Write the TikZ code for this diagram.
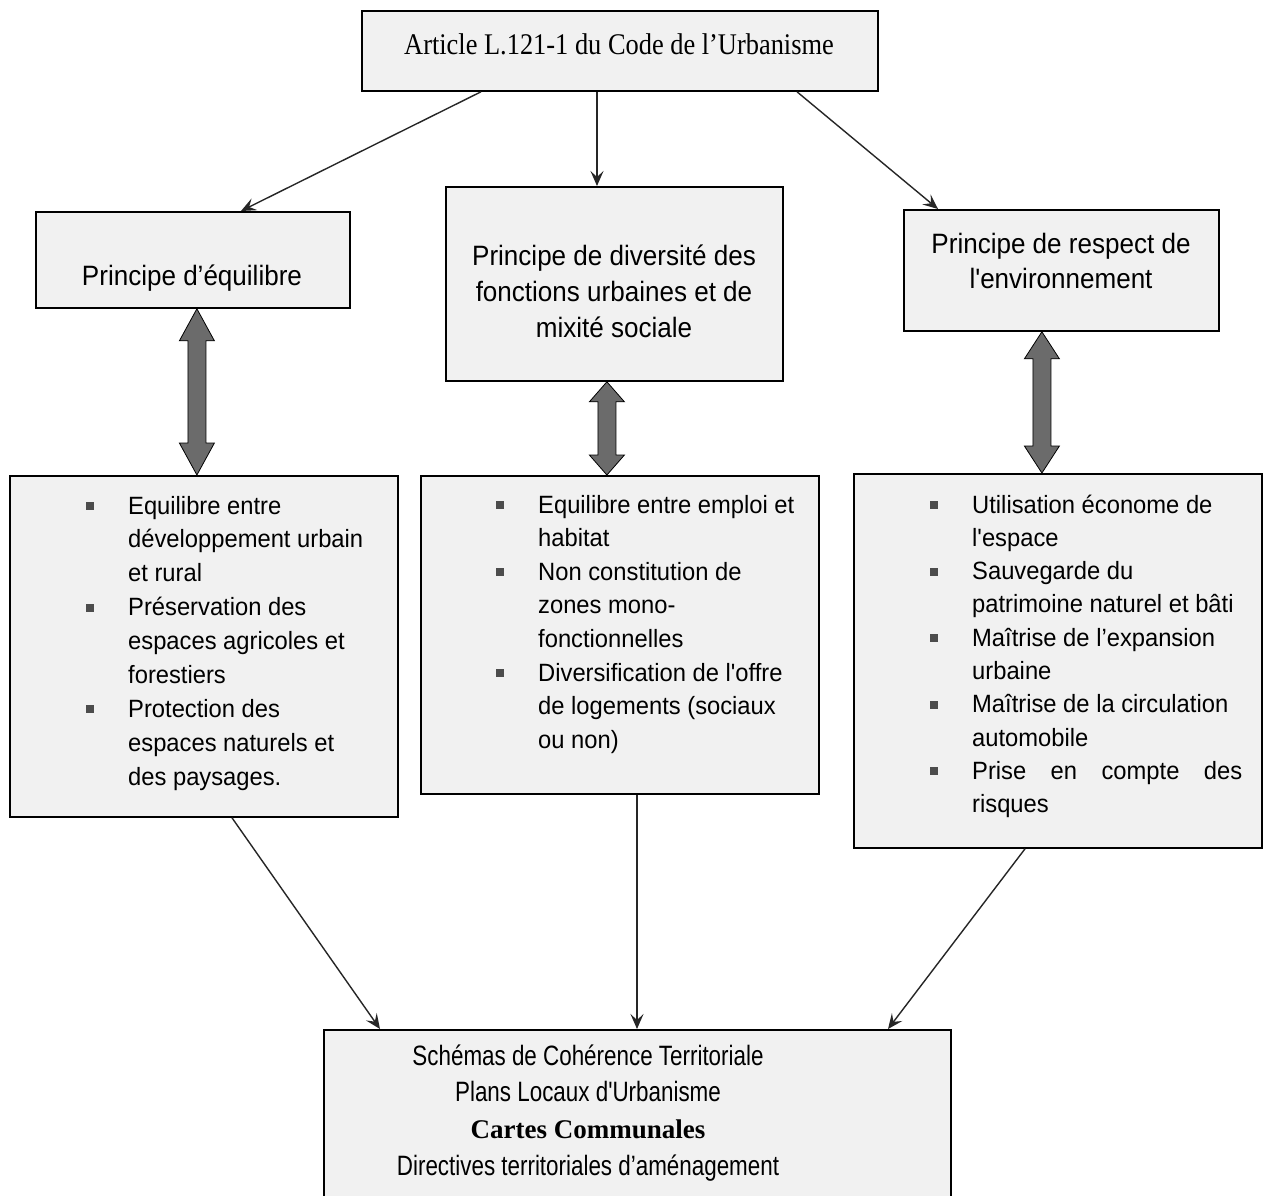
\documentclass[tikz,border=0pt]{standalone}
\usepackage{fontspec}
\usetikzlibrary{arrows.meta,calc}
\newfontfamily\serifA[Ligatures=TeXOff,FakeStretch=0.88]{Liberation Serif}
\newfontfamily\serifB[Ligatures=TeXOff]{Liberation Serif}
\newfontfamily\sansP[Ligatures=TeXOff,FakeStretch=0.93]{Liberation Sans}
\newfontfamily\sansL[Ligatures=TeXOff,FakeStretch=0.95]{Liberation Sans}
\newfontfamily\sansN[Ligatures=TeXOff,FakeStretch=0.8]{Liberation Sans}
\definecolor{boxfill}{gray}{0.945}
\definecolor{arrgray}{gray}{0.42}
\definecolor{bulgray}{gray}{0.3}
\newcommand\blt{\makebox[42pt][l]{\textcolor{bulgray}{\rule[4pt]{8pt}{8pt}}}}
\newcommand\ind{\hspace*{42pt}}
\newcommand\dblarrow[3]{%
  \path[draw=black, line width=0.8pt, fill=arrgray] let \p1=(#1), \p2=(#2) in
   (\x1,\y1) -- ({\x1+17.5pt},{\y1-#3}) -- ({\x1+9pt},{\y1-#3}) -- ({\x1+9pt},{\y2+#3})
   -- ({\x1+17.5pt},{\y2+#3}) -- (\x1,\y2) -- ({\x1-17.5pt},{\y2+#3}) -- ({\x1-9pt},{\y2+#3})
   -- ({\x1-9pt},{\y1-#3}) -- ({\x1-17.5pt},{\y1-#3}) -- cycle;}
\begin{document}
\begin{tikzpicture}[x=1pt,y=-1pt,
  box/.style={draw=black, line width=1.8pt, fill=boxfill, inner sep=0pt, anchor=north west},
  txt/.style={inner sep=0pt},
  conn/.style={draw=black!85, line width=1.4pt, -{Stealth[length=15pt,width=13pt,inset=6pt]}}]
\useasboundingbox (0,0) rectangle (1263,1196);
\fill[white] (0,0) rectangle (1263,1196);
% boxes
\node[box, minimum width=516, minimum height=80] (top) at (361,10) {};
\node[box, minimum width=314, minimum height=96] (p1) at (35,211) {};
\node[box, minimum width=337, minimum height=194] (p2) at (445,186) {};
\node[box, minimum width=315, minimum height=121] (p3) at (903,209) {};
\node[box, minimum width=388, minimum height=341] (b1) at (9,475) {};
\node[box, minimum width=398, minimum height=318] (b2) at (420,475) {};
\node[box, minimum width=408, minimum height=374] (b3) at (853,473) {};
\node[box, minimum width=627, minimum height=185] (bot) at (323,1029) {};
% texts
\node[txt, anchor=base] (ttop) at (619,55) {\serifA\fontsize{30}{36}\selectfont Article L.121-1 du Code de l’Urbanisme};
\node[txt, anchor=base] (tp1) at (192,285) {\sansP\fontsize{28}{36}\selectfont Principe d’équilibre};
\node[txt, anchor=base] (tp2) at (614,265) {\sansP\fontsize{28}{36}\selectfont\begin{tabular}[t]{@{}c@{}}Principe de diversité des\\ fonctions urbaines et de\\ mixité sociale\end{tabular}};
\node[txt, anchor=base] (tp3) at (1061,253) {\sansP\fontsize{28}{35}\selectfont\begin{tabular}[t]{@{}c@{}}Principe de respect de\\ l'environnement\end{tabular}};
\node[txt, anchor=base west] (tb1) at (86,514) {\sansL\fontsize{25}{33.9}\selectfont\begin{tabular}[t]{@{}l@{}}
\blt Equilibre entre\\
\ind développement urbain\\
\ind et rural\\
\blt Préservation des\\
\ind espaces agricoles et\\
\ind forestiers\\
\blt Protection des\\
\ind espaces naturels et\\
\ind des paysages.\end{tabular}};
\node[txt, anchor=base west] (tb2) at (496,513) {\sansL\fontsize{25}{33.6}\selectfont\begin{tabular}[t]{@{}l@{}}
\blt Equilibre entre emploi et\\
\ind habitat\\
\blt Non constitution de\\
\ind zones mono-\\
\ind fonctionnelles\\
\blt Diversification de l'offre\\
\ind de logements (sociaux\\
\ind ou non)\end{tabular}};
\node[txt, anchor=base west] (tb3) at (930,513) {\sansL\fontsize{25}{33.3}\selectfont\begin{tabular}[t]{@{}l@{}}
\blt Utilisation économe de\\
\ind l'espace\\
\blt Sauvegarde du\\
\ind patrimoine naturel et bâti\\
\blt Maîtrise de l’expansion\\
\ind urbaine\\
\blt Maîtrise de la circulation\\
\ind automobile\\
\blt \makebox[270pt][s]{Prise en compte des}\\
\ind risques\end{tabular}};
\node[txt, anchor=base] (tbot) at (588,1065) {\sansN\fontsize{28}{36.7}\selectfont\begin{tabular}[t]{@{}c@{}}
Schémas de Cohérence Territoriale\\
Plans Locaux d'Urbanisme\\
{\serifB\bfseries\fontsize{27}{36.7}\selectfont Cartes Communales}\\
Directives territoriales d’aménagement\end{tabular}};
% connectors
\draw[conn] ($(top.south west)+(120,0)$) -- ($(p1.north west)+(206,0)$);
\draw[conn] ($(top.south west)+(236,0)$) -- ($(p2.north west)+(152,0)$);
\draw[conn] ($(top.south west)+(436,0)$) -- ($(p3.north west)+(35,0)$);
\draw[conn] ($(b1.south west)+(223,0)$) -- ($(bot.north west)+(57,0)$);
\draw[conn] ($(b2.south west)+(217,0)$) -- ($(bot.north west)+(314,0)$);
\draw[conn] ($(b3.south west)+(172,0)$) -- ($(bot.north west)+(565,0)$);
% double arrows
\dblarrow{$(p1.south)+(4,0)$}{b1.north}{32pt}
\dblarrow{$(p2.south)+(-7.5,0)$}{b2.north}{20pt}
\dblarrow{$(p3.south)+(-19.5,0)$}{b3.north}{27pt}
\end{tikzpicture}
\end{document}
